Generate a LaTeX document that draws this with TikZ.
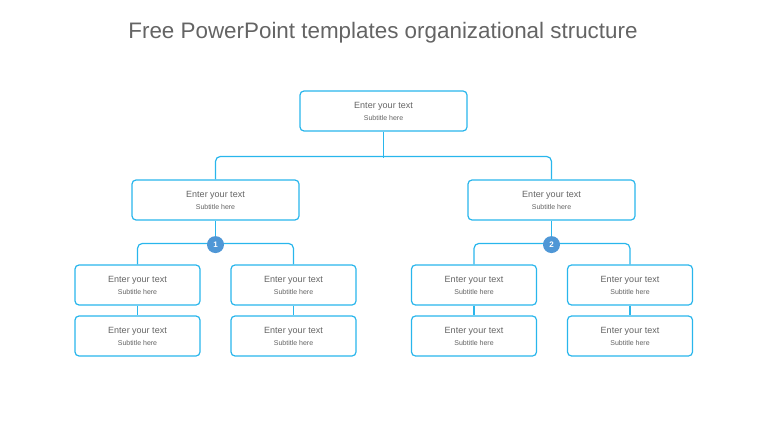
\documentclass[tikz,border=0pt]{standalone}
\usepackage{fontspec}
\setmainfont{Liberation Sans}
\usetikzlibrary{positioning}
\definecolor{boxline}{RGB}{41,182,236}
\definecolor{txtgray}{RGB}{100,100,100}
\definecolor{badge}{RGB}{79,151,214}
\tikzset{
  card/.style={draw=boxline, line width=1.2pt, rounded corners=4pt, fill=white,
    minimum height=40pt, align=center, text=txtgray, font=\fontsize{9}{11}\selectfont},
  big/.style={card, minimum width=167pt},
  small/.style={card, minimum width=125pt},
  link/.style={draw=boxline, line width=1.2pt, rounded corners=5pt},
  num/.style={circle, fill=badge, text=white, minimum size=17pt, inner sep=0pt,
    font=\fontsize{8}{8}\selectfont\bfseries}
}
\newcommand{\cardtext}{Enter your text\\[1pt]{\fontsize{7}{8}\selectfont Subtitle here}}
\begin{document}
\begin{tikzpicture}[x=1pt,y=-1pt]
    \useasboundingbox (0,0) rectangle (768,433);

    % Title
    \node[text=txtgray, font=\fontsize{22.4}{26}\selectfont] (title) at (383,33) {Free PowerPoint templates organizational structure};

    % Top level
    \node[big] (top) at (383.5,111) {\cardtext};

    % Second level
    \node[big] (left) at (215.5,200) {\cardtext};
    \node[big] (right) at (551.5,200) {\cardtext};

    % Third level
    \node[small] (la) at (137.5,285) {\cardtext};
    \node[small] (lb) at (293.5,285) {\cardtext};
    \node[small] (ra) at (474,285) {\cardtext};
    \node[small] (rb) at (630,285) {\cardtext};

    % Fourth level
    \node[small] (la2) at (137.5,336) {\cardtext};
    \node[small] (lb2) at (293.5,336) {\cardtext};
    \node[small] (ra2) at (474,336) {\cardtext};
    \node[small] (rb2) at (630,336) {\cardtext};

    % Connectors
    \draw[link] (left.north) -- ++(0,-23) -| (right.north);
    \draw[link] (top.south) -- ++(0,26);
    \draw[link] (la.north) -- ++(0,-21) -| (lb.north);
    \draw[link] (ra.north) -- ++(0,-21) -| (rb.north);
    \foreach \n in {left,right}
        \draw[link] (\n.south) -- ++(0,24);
    \foreach \n in {la,lb,ra,rb}
        \draw[link] (\n.south) -- (\n2.north);

    % Badges
    \node[num] (one) at ([yshift=-24pt]left.south) {1};
    \node[num] (two) at ([yshift=-24pt]right.south) {2};
\end{tikzpicture}
\end{document}
